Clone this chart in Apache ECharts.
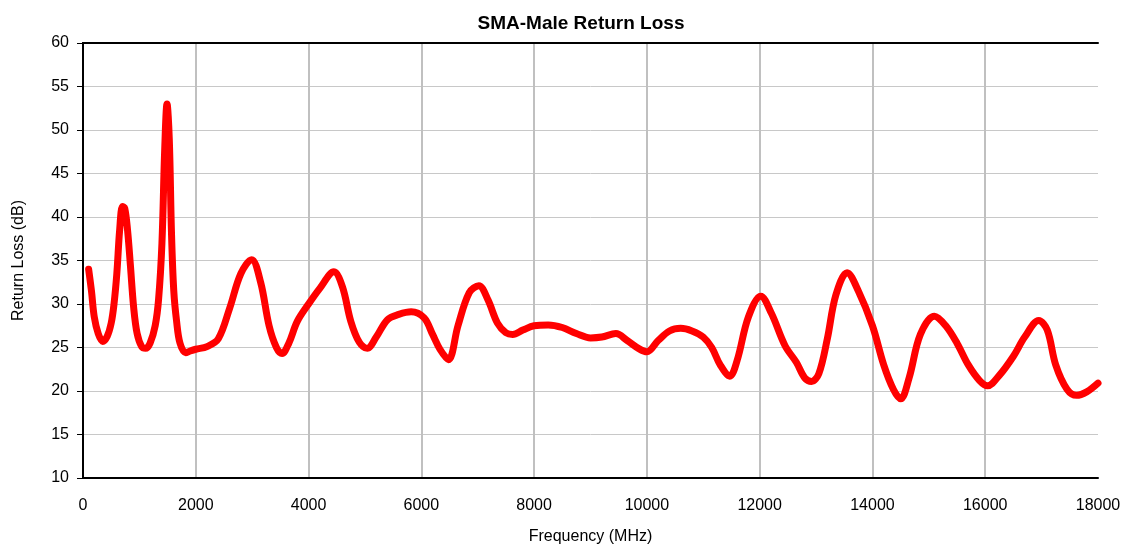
<!DOCTYPE html>
<html>
<head>
<meta charset="utf-8">
<script src="https://cdn.jsdelivr.net/npm/echarts@6/dist/echarts.min.js"></script>
<style>
  html, body { margin: 0; padding: 0; background: #fff; }
  #chart { width: 1125px; height: 550px; }
</style>
</head>
<body>
<div id="chart"></div>
<script>
  // frequency sweep
  var freqMHz = [
    100, 150, 200, 270, 350, 430, 500, 550, 600, 650, 700, 740, 790, 840, 900, 960,
    1040, 1110, 1190, 1280, 1340, 1400, 1450, 1490, 1530, 1570, 1610, 1660, 1720, 1820,
    1900, 2000, 2200, 2400, 2600, 2800, 2990, 3150, 3300, 3430, 3530, 3650, 3800, 4000,
    4200, 4450, 4600, 4750, 4900, 5040, 5200, 5400, 5600, 5820, 6050, 6200, 6330, 6480,
    6650, 6850, 7020, 7180, 7350, 7500, 7620, 7800, 8000, 8250, 8500, 8750, 9000, 9200,
    9450, 9650, 9850, 10000, 10200, 10400, 10600, 10800, 11000, 11150, 11300, 11470, 11600,
    11800, 12020, 12210, 12450, 12650, 12800, 12920, 13050, 13200, 13350, 13550, 13750, 14000,
    14200, 14370, 14500, 14650, 14850, 15100, 15300, 15500, 15700, 15900, 16040, 16250,
    16500, 16700, 16950, 17100, 17250, 17450, 17620, 17800, 18000
  ];
  var returnLossDb = [
    34.0, 31.5, 28.5, 26.6, 25.7, 26.3, 27.8, 30.0, 33.5, 38.5, 41.2, 41.0, 38.5, 34.5, 29.5, 26.6,
    25.1, 24.9, 25.5, 27.5, 30.5, 37.0, 48.0, 53.0, 49.0, 38.0, 31.5, 28.0, 25.5, 24.4,
    24.6, 24.8, 25.1, 26.0, 29.5, 33.5, 35.1, 32.5, 27.5, 25.0, 24.3, 25.5, 28.0, 30.0,
    31.8, 33.7, 32.0, 28.0, 25.6, 24.9, 26.2, 28.2, 28.8, 29.1, 28.4, 26.5, 24.8, 23.6,
    27.5, 31.3, 32.1, 30.5, 27.8, 26.7, 26.5, 27.0, 27.5, 27.6, 27.3, 26.6, 26.1, 26.2,
    26.6, 25.8, 24.9, 24.5, 25.8, 26.9, 27.2, 26.9, 26.2, 25.0, 23.0, 21.7, 23.5,
    28.5, 30.9, 28.9, 25.2, 23.3, 21.5, 21.1, 22.0, 26.0, 31.0, 33.6, 31.5, 27.5,
    23.0, 20.2, 19.1, 21.5, 26.5, 28.6, 27.5, 25.5, 23.0, 21.2, 20.6, 21.8,
    24.0, 26.2, 28.1, 27.0, 23.0, 20.2, 19.5, 19.9, 20.9
  ];
  var xTicks = [0, 2000, 4000, 6000, 8000, 10000, 12000, 14000, 16000, 18000];
  var yTicks = [10, 15, 20, 25, 30, 35, 40, 45, 50, 55, 60];

  var fontFamily = '"Liberation Sans", Arial, sans-serif';
  var points = freqMHz.map(function (f, i) { return [f, returnLossDb[i]]; });
  var xMin = xTicks[0], xMax = xTicks[xTicks.length - 1];
  var yMin = yTicks[0], yMax = yTicks[yTicks.length - 1];

  var chart = echarts.init(document.getElementById('chart'));
  chart.setOption({
    animation: false,
    backgroundColor: '#ffffff',
    title: {
      text: 'SMA-Male Return Loss',
      left: 576,
      top: 9,
      textAlign: 'center',
      textStyle: { fontFamily: fontFamily, fontSize: 19, fontWeight: 'bold', color: '#000' }
    },
    grid: { left: 83, right: 27, top: 43, bottom: 67 },
    xAxis: [
      {
        type: 'value',
        min: xMin, max: xMax, interval: xTicks[1] - xTicks[0],
        name: 'Frequency (MHz)',
        nameLocation: 'middle',
        nameGap: 51,
        nameTextStyle: { fontFamily: fontFamily, fontSize: 16, color: '#000' },
        axisLine: { show: true, lineStyle: { color: '#000', width: 2 } },
        axisTick: { show: false },
        axisLabel: { fontFamily: fontFamily, fontSize: 16, color: '#000', margin: 20,
          formatter: function (v) { return String(v); } },
        splitLine: { show: true, showMinLine: false, showMaxLine: false,
          lineStyle: { color: '#c0c0c0', width: 2 } }
      },
      {
        type: 'value', position: 'top',
        min: xMin, max: xMax,
        axisLine: { show: true, lineStyle: { color: '#000', width: 2 } },
        axisTick: { show: false }, axisLabel: { show: false }, splitLine: { show: false }
      }
    ],
    yAxis: [
      {
        type: 'value',
        min: yMin, max: yMax, interval: yTicks[1] - yTicks[0],
        name: 'Return Loss (dB)',
        nameLocation: 'middle',
        nameGap: 56,
        nameRotate: 90,
        nameTextStyle: { fontFamily: fontFamily, fontSize: 16, color: '#000' },
        axisLine: { show: true, lineStyle: { color: '#000', width: 2 } },
        axisTick: { show: true, inside: false, length: 6, lineStyle: { color: '#000', width: 1 } },
        axisLabel: { fontFamily: fontFamily, fontSize: 16, color: '#000', margin: 14 },
        splitLine: { show: true, showMinLine: false, showMaxLine: false,
          lineStyle: { color: '#c8c8c8', width: 1 } }
      },
      {
        type: 'value', position: 'right',
        min: yMin, max: yMax,
        axisLine: { show: true, lineStyle: { color: '#000', width: 2 } },
        axisTick: { show: false }, axisLabel: { show: false }, splitLine: { show: false }
      }
    ],
    series: [{
      type: 'line',
      data: points,
      smooth: 0.35,
      showSymbol: false,
      lineStyle: { color: '#ff0000', width: 7, cap: 'round', join: 'round' }
    }]
  });
</script>
</body>
</html>
